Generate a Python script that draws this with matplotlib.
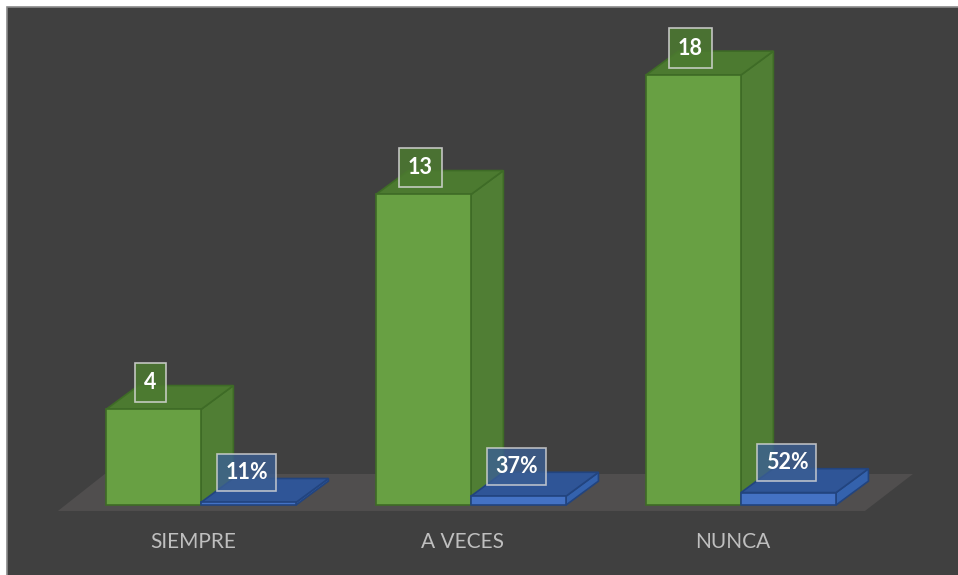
import matplotlib
matplotlib.use('Agg')
import matplotlib.pyplot as plt
from matplotlib.patches import Polygon, Rectangle

# Data
categories = ['SIEMPRE', 'A VECES', 'NUNCA']
counts = [4, 13, 18]
percents = [0.11, 0.37, 0.52]
count_labels = ['4', '13', '18']
percent_labels = ['11%', '37%', '52%']

# Colours
bg = '#404040'
green_front, green_top, green_side, green_edge = '#68a043', '#4c7a30', '#507e34', '#3e6b26'
blue_front, blue_top, blue_side, blue_edge = '#4472c4', '#2f5597', '#3462ad', '#22447f'

fig = plt.figure(figsize=(9.58, 5.75), dpi=100, facecolor='white')

ax = fig.add_axes([0, 0, 1, 1])
ax.set_facecolor('none')
ax.set_xlim(-0.7444, 2.8037)
ax.set_ylim(-2.93, 21.14)
ax.axis('off')

# dark chart area with a thin grey border
ax.add_patch(Rectangle((7 / 958, -0.01), 1.0, 568 / 575 + 0.01,
                       transform=fig.transFigure, facecolor=bg,
                       edgecolor='#8a8a8a', lw=1.2, zorder=0, clip_on=False))

w = 0.352          # bar width
dx, dy = 0.12, 1.0  # 3d depth offset

# Floor
floor = Polygon([(-0.53, -0.25), (2.459, -0.25), (2.637, 1.30), (-0.356, 1.30)],
                closed=True, facecolor='#504e4e', edgecolor='none', zorder=1)
ax.add_patch(floor)


def bar3d(x0, x1, v, front, top, side, edge, z):
    kw = dict(closed=True, edgecolor=edge, lw=1.2, zorder=z, joinstyle='miter')
    ax.add_patch(Polygon([(x1, 0), (x1 + dx, dy), (x1 + dx, v + dy), (x1, v)], facecolor=side, **kw))
    ax.add_patch(Polygon([(x0, v), (x1, v), (x1 + dx, v + dy), (x0 + dx, v + dy)], facecolor=top, **kw))
    ax.add_patch(Polygon([(x0, 0), (x1, 0), (x1, v), (x0, v)], facecolor=front, **kw))


for i in range(len(categories)):
    bar3d(i - w, i, counts[i], green_front, green_top, green_side, green_edge, 2 + i * 2)
    bar3d(i, i + w, percents[i], blue_front, blue_top, blue_side, blue_edge, 3 + i * 2)

    ax.text(i - w / 2 - 0.011, counts[i] + 1.13, count_labels[i], ha='center', va='center',
            fontsize=15.5, fontweight='bold', color='white', family='Lato', zorder=10,
            bbox=dict(boxstyle='square,pad=0.42', facecolor='#4c7a30', alpha=0.85,
                      edgecolor='#d9d9d9', lw=1.2))
    ax.text(i + w / 2 - 0.006, percents[i] + 1.25, percent_labels[i], ha='center', va='center',
            fontsize=15.5, fontweight='bold', color='white', family='Lato', zorder=10,
            bbox=dict(boxstyle='square,pad=0.38', facecolor='#3b5f94', alpha=0.8,
                      edgecolor='#d9d9d9', lw=1.2))

    ax.text(i - 0.03, -1.55, categories[i], ha='center', va='center',
            fontsize=15, color='#bfbfbf', family='Lato')

fig.savefig('out.png', dpi=100, facecolor=fig.get_facecolor())
